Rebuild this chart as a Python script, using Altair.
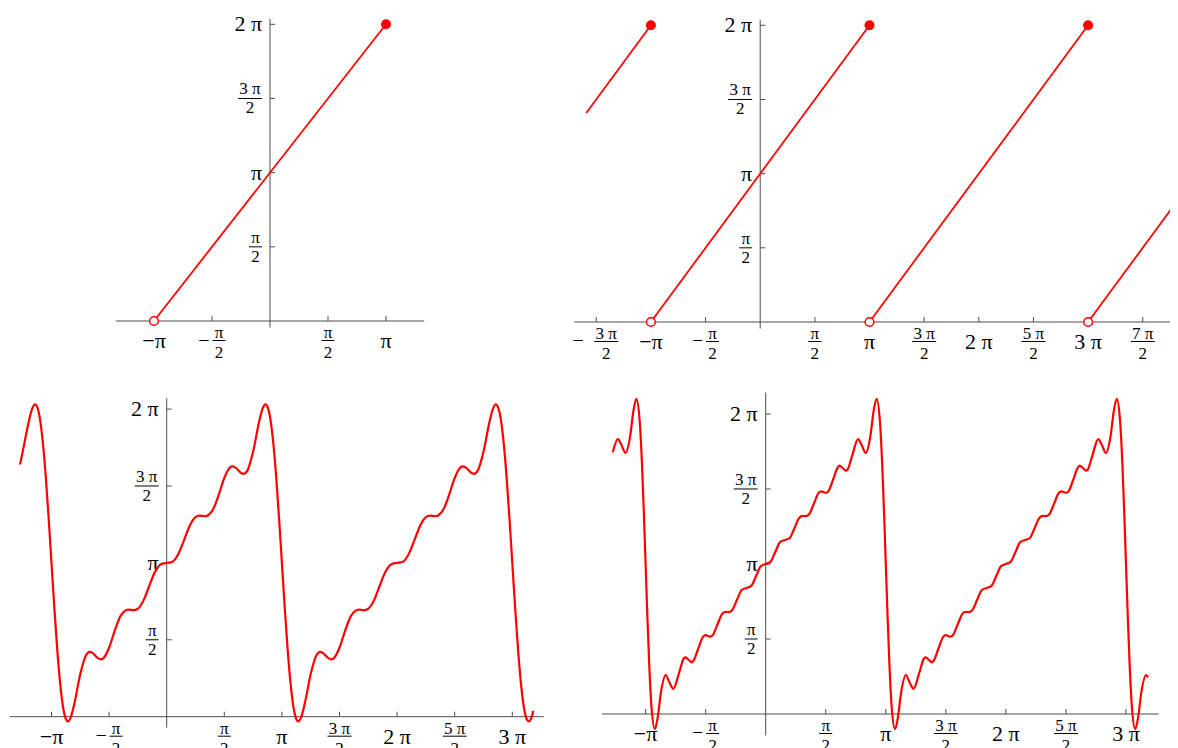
import altair as alt
import pandas as pd

# ---------------- values ----------------
# x values are in units of pi, y values in plain units
TOP_LEFT_X = [-1.0, 1.0]
TOP_LEFT_Y = [0.0, 6.2832]
TOP_LEFT_OPEN_X = [-1.0]
TOP_LEFT_OPEN_Y = [0.0]
TOP_LEFT_FILLED_X = [1.0]
TOP_LEFT_FILLED_Y = [6.2832]

TOP_RIGHT_SEGMENT = [0, 0, 1, 1, 2, 2, 3, 3]
TOP_RIGHT_X = [-1.5915, -1.0, -1.0, 1.0, 1.0, 3.0, 3.0, 3.83]
TOP_RIGHT_Y = [4.4248, 6.2832, 0.0, 6.2832, 0.0, 6.2832, 0.0, 2.6075]
TOP_RIGHT_OPEN_X = [-1.0, 1.0, 3.0]
TOP_RIGHT_OPEN_Y = [0.0, 0.0, 0.0]
TOP_RIGHT_FILLED_X = [-1.0, 1.0, 3.0]
TOP_RIGHT_FILLED_Y = [6.2832, 6.2832, 6.2832]

BOTTOM_LEFT_X = [
    -1.2732, -1.25, -1.2, -1.17, -1.143, -1.125, -1.1, -1.075, -1.05, -1.025, -1.0,
    -0.975, -0.95, -0.925, -0.9, -0.875, -0.857, -0.83, -0.8, -0.75, -0.7, -0.667, -0.65,
    -0.6, -0.571, -0.55, -0.5, -0.45, -0.4, -0.333, -0.286, -0.25, -0.2, -0.15, -0.1, -0.05,
    0.0, 0.05, 0.1, 0.15, 0.2, 0.25, 0.286, 0.333, 0.4, 0.45, 0.5, 0.55, 0.571, 0.6, 0.65,
    0.667, 0.7, 0.75, 0.8, 0.83, 0.857, 0.875, 0.9, 0.925, 0.95, 0.975, 1.0,
    1.025, 1.05, 1.075, 1.1, 1.125, 1.143, 1.17, 1.2, 1.25, 1.3, 1.333, 1.35,
    1.4, 1.429, 1.45, 1.5, 1.55, 1.6, 1.667, 1.714, 1.75, 1.8, 1.85, 1.9, 1.95,
    2.0, 2.05, 2.1, 2.15, 2.2, 2.25, 2.286, 2.333, 2.4, 2.45, 2.5, 2.55, 2.571, 2.6, 2.65,
    2.667, 2.7, 2.75, 2.8, 2.83, 2.857, 2.875, 2.9, 2.925, 2.95, 2.975, 3.0,
    3.025, 3.05, 3.075, 3.1, 3.125, 3.143, 3.17, 3.1831]
BOTTOM_LEFT_Y = [
    5.15, 5.411, 6.000, 6.276, 6.380, 6.330, 6.079, 5.597, 4.912, 4.069, 3.142,
    2.214, 1.371, 0.686, 0.204, -0.047, -0.097, 0.007, 0.283, 0.872, 1.256, 1.323, 1.310,
    1.202, 1.171, 1.192, 1.408, 1.762, 2.060, 2.189, 2.176, 2.205, 2.381, 2.680, 2.964, 3.116,
    3.142, 3.167, 3.319, 3.603, 3.902, 4.078, 4.107, 4.094, 4.223, 4.521, 4.875, 5.091, 5.112, 5.081, 4.973,
    4.960, 5.027, 5.411, 6.000, 6.276, 6.380, 6.330, 6.079, 5.597, 4.912, 4.069, 3.142,
    2.214, 1.371, 0.686, 0.204, -0.047, -0.097, 0.007, 0.283, 0.872, 1.256, 1.323, 1.310,
    1.202, 1.171, 1.192, 1.408, 1.762, 2.060, 2.189, 2.176, 2.205, 2.381, 2.680, 2.964, 3.116,
    3.142, 3.167, 3.319, 3.603, 3.902, 4.078, 4.107, 4.094, 4.223, 4.521, 4.875, 5.091, 5.112, 5.081, 4.973,
    4.960, 5.027, 5.411, 6.000, 6.276, 6.380, 6.330, 6.079, 5.597, 4.912, 4.069, 3.142,
    2.214, 1.371, 0.686, 0.204, -0.047, -0.097, 0.007, 0.12]

BOTTOM_RIGHT_X = [
    -1.2732, -1.231, -1.2, -1.167, -1.13, -1.1, -1.077, -1.05, -1.03, -1.015, -1.0,
    -0.985, -0.97, -0.95, -0.923, -0.9, -0.87, -0.833, -0.8, -0.769, -0.72, -0.68, -0.667,
    -0.64, -0.615, -0.6, -0.56, -0.52, -0.5, -0.462, -0.44, -0.4, -0.36, -0.333, -0.308,
    -0.28, -0.24, -0.2, -0.16, -0.12, -0.08, -0.04,
    0.0, 0.04, 0.08, 0.12, 0.16, 0.2, 0.24, 0.28, 0.308, 0.333, 0.36, 0.4, 0.44, 0.462,
    0.5, 0.52, 0.56, 0.6, 0.615, 0.64, 0.667, 0.68, 0.72, 0.769, 0.8, 0.833, 0.87, 0.9,
    0.923, 0.95, 0.97, 0.985, 1.0,
    1.015, 1.03, 1.05, 1.077, 1.1, 1.13, 1.167, 1.2, 1.231, 1.28, 1.32, 1.333,
    1.36, 1.385, 1.4, 1.44, 1.48, 1.5, 1.538, 1.56, 1.6, 1.64, 1.667, 1.692,
    1.72, 1.76, 1.8, 1.84, 1.88, 1.92, 1.96,
    2.0, 2.04, 2.08, 2.12, 2.16, 2.2, 2.24, 2.28, 2.308, 2.333, 2.36, 2.4, 2.44, 2.462,
    2.5, 2.52, 2.56, 2.6, 2.615, 2.64, 2.667, 2.68, 2.72, 2.769, 2.8, 2.833, 2.87, 2.9,
    2.923, 2.95, 2.97, 2.985, 3.0,
    3.015, 3.03, 3.05, 3.077, 3.1, 3.13, 3.167, 3.1831]
BOTTOM_RIGHT_Y = [
    5.48, 5.755, 5.630, 5.466, 5.794, 6.370, 6.600, 6.162, 5.229, 4.250, 3.142,
    2.033, 1.054, 0.121, -0.317, -0.087, 0.489, 0.817, 0.653, 0.528, 0.873, 1.171, 1.186,
    1.131, 1.083, 1.120, 1.382, 1.625, 1.651, 1.621, 1.655, 1.885, 2.105, 2.140, 2.133,
    2.173, 2.387, 2.597, 2.639, 2.683, 2.890, 3.096,
    3.142, 3.187, 3.393, 3.600, 3.644, 3.686, 3.896, 4.110, 4.150, 4.143, 4.178, 4.398, 4.628, 4.662,
    4.632, 4.658, 4.901, 5.163, 5.200, 5.152, 5.097, 5.112, 5.410, 5.755, 5.630, 5.466, 5.794, 6.370,
    6.600, 6.162, 5.229, 4.250, 3.142,
    2.033, 1.054, 0.121, -0.317, -0.087, 0.489, 0.817, 0.653, 0.528, 0.873, 1.171, 1.186,
    1.131, 1.083, 1.120, 1.382, 1.625, 1.651, 1.621, 1.655, 1.885, 2.105, 2.140, 2.133,
    2.173, 2.387, 2.597, 2.639, 2.683, 2.890, 3.096,
    3.142, 3.187, 3.393, 3.600, 3.644, 3.686, 3.896, 4.110, 4.150, 4.143, 4.178, 4.398, 4.628, 4.662,
    4.632, 4.658, 4.901, 5.163, 5.200, 5.152, 5.097, 5.112, 5.410, 5.755, 5.630, 5.466, 5.794, 6.370,
    6.600, 6.162, 5.229, 4.250, 3.142,
    2.033, 1.054, 0.121, -0.317, -0.087, 0.489, 0.817, 0.767]

# tick positions and labels
Y_TICKS = [1.5708, 3.1416, 4.7124, 6.2832]
Y_BIG_AT = [3.1416, 6.2832]
Y_BIG_TEXT = ["π", "2 π"]
Y_FRAC_AT = [1.5708, 4.7124]
Y_FRAC_NUM = ["π", "3 π"]

TL_X_TICKS = [-1.0, -0.5, 0.5, 1.0]
TL_X_BIG_AT = [-1.0, 1.0]
TL_X_BIG_TEXT = ["−π", "π"]
TL_X_FRAC_AT = [-0.5, 0.5]
TL_X_FRAC_NUM = ["π", "π"]

TR_X_TICKS = [-1.5, -1.0, -0.5, 0.5, 1.0, 1.5, 2.0, 2.5, 3.0, 3.5]
TR_X_BIG_AT = [-1.0, 1.0, 2.0, 3.0]
TR_X_BIG_TEXT = ["−π", "π", "2 π", "3 π"]
TR_X_FRAC_AT = [-1.5, -0.5, 0.5, 1.5, 2.5, 3.5]
TR_X_FRAC_NUM = ["3 π", "π", "π", "3 π", "5 π", "7 π"]

B_X_TICKS = [-1.0, -0.5, 0.5, 1.0, 1.5, 2.0, 2.5, 3.0]
B_X_BIG_AT = [-1.0, 1.0, 2.0, 3.0]
B_X_BIG_TEXT = ["−π", "π", "2 π", "3 π"]
B_X_FRAC_AT = [-0.5, 0.5, 1.5, 2.5]
B_X_FRAC_NUM = ["π", "π", "3 π", "5 π"]

# ---------------- layout / style ----------------
FONT = "Liberation Serif"
BIG = 22
SMALL = 17
AXC = "#4d4d4d"
RED = "#ff0000"
NARROW_BAR = 13
WIDE_BAR = 24

GEOM = {
    "tl": dict(w=552, h=364, xdom=[-2.2586, 2.5], ydom=[-1.0800, 6.6286], xr=[-1.33, 1.33], yr=[-0.14, 6.40]),
    "tr": dict(w=610, h=364, xdom=[-1.8317, 3.7493], ydom=[-1.0589, 6.6497], xr=[-1.701, 3.83], yr=[-0.14, 6.40]),
    "bl": dict(w=567, h=384, xdom=[-1.3776, 3.5443], ydom=[-0.8027, 7.0404], xr=[-1.3624, 3.2723], yr=[-0.224, 6.507]),
    "br": dict(w=595, h=384, xdom=[-1.5878, 3.3664], ydom=[-0.8796, 7.1623], xr=[-1.3624, 3.2723], yr=[-0.449, 6.732]),
}


def panel(g, x_ticks, big_at, big_text, frac_at, frac_num, marks_fn):
    xs = alt.Scale(domain=g["xdom"], nice=False, zero=False)
    ys = alt.Scale(domain=g["ydom"], nice=False, zero=False)

    def X(f):
        return alt.X(f, type="quantitative", scale=xs, axis=None)

    def Y(f):
        return alt.Y(f, type="quantitative", scale=ys, axis=None)

    L = []
    # axis lines
    d = pd.DataFrame({"a": [g["xr"][0]], "b": [g["xr"][1]], "z": [0.0]})
    L.append(alt.Chart(d).mark_rule(color=AXC, strokeWidth=1, clip=True).encode(
        x=X("a"), x2=alt.X2("b"), y=Y("z")))
    d = pd.DataFrame({"a": [g["yr"][0]], "b": [g["yr"][1]], "z": [0.0]})
    L.append(alt.Chart(d).mark_rule(color=AXC, strokeWidth=1, clip=True).encode(
        x=X("z"), y=Y("a"), y2=alt.Y2("b")))
    # x ticks (pointing up)
    d = pd.DataFrame({"t": x_ticks, "z": [0.0] * len(x_ticks), "z2": [0.0] * len(x_ticks)})
    L.append(alt.Chart(d).mark_rule(color=AXC, strokeWidth=1, y2Offset=-5, clip=True).encode(
        x=X("t"), y=Y("z"), y2=alt.Y2("z2")))
    # y ticks (pointing right)
    d = pd.DataFrame({"t": Y_TICKS, "z": [0.0] * len(Y_TICKS), "z2": [0.0] * len(Y_TICKS)})
    L.append(alt.Chart(d).mark_rule(color=AXC, strokeWidth=1, x2Offset=5, clip=True).encode(
        x=X("z"), x2=alt.X2("z2"), y=Y("t")))

    # big x labels
    d = pd.DataFrame({"t": big_at, "lab": big_text, "z": [0.0] * len(big_at)})
    L.append(alt.Chart(d).mark_text(font=FONT, fontSize=BIG, align="center", baseline="alphabetic",
                                    dy=27, color="black", clip=True).encode(
        x=X("t"), y=Y("z"), text=alt.Text("lab:N")))

    # fraction x labels
    fx = pd.DataFrame({"t": frac_at, "num": frac_num})
    fx["z"] = 0.0
    fx["t2"] = fx["t"]
    fx["den"] = "2"
    for wide in (False, True):
        for neg in (False, True):
            sub = fx[((fx["num"] != "π") == wide) & ((fx["t"] < 0) == neg)]
            if len(sub) == 0:
                continue
            bw = WIDE_BAR if wide else NARROW_BAR
            sh = (10 if wide else 7) if neg else 0
            L.append(alt.Chart(sub).mark_text(font=FONT, fontSize=SMALL, align="center", baseline="alphabetic",
                                              dx=sh, dy=17, color="black", clip=True).encode(
                x=X("t"), y=Y("z"), text=alt.Text("num:N")))
            L.append(alt.Chart(sub).mark_rule(color="black", strokeWidth=1, xOffset=sh - bw / 2,
                                              x2Offset=sh + bw / 2, yOffset=19.5, clip=True).encode(
                x=X("t"), x2=alt.X2("t2"), y=Y("z")))
            L.append(alt.Chart(sub).mark_text(font=FONT, fontSize=SMALL, align="center", baseline="alphabetic",
                                              dx=sh, dy=37, color="black", clip=True).encode(
                x=X("t"), y=Y("z"), text=alt.Text("den:N")))
            if neg:
                L.append(alt.Chart(sub).mark_text(font=FONT, fontSize=20, align="center", baseline="middle",
                                                  dx=-18 if wide else -8, dy=19.5, color="black", clip=True).encode(
                    x=X("t"), y=Y("z"), text=alt.value("−")))

    # big y labels
    d = pd.DataFrame({"t": Y_BIG_AT, "lab": Y_BIG_TEXT, "z": [0.0] * len(Y_BIG_AT)})
    L.append(alt.Chart(d).mark_text(font=FONT, fontSize=BIG, align="right", baseline="middle",
                                    dx=-8, color="black", clip=True).encode(
        x=X("z"), y=Y("t"), text=alt.Text("lab:N")))
    # fraction y labels
    fy = pd.DataFrame({"t": Y_FRAC_AT, "num": Y_FRAC_NUM})
    fy["z"] = 0.0
    fy["z2"] = 0.0
    fy["den"] = "2"
    for wide in (False, True):
        sub = fy[(fy["num"] != "π") == wide]
        if len(sub) == 0:
            continue
        bw = WIDE_BAR if wide else NARROW_BAR
        cx = -(8 + bw / 2)
        L.append(alt.Chart(sub).mark_text(font=FONT, fontSize=SMALL, align="center", baseline="alphabetic",
                                          dx=cx, dy=-4, color="black", clip=True).encode(
            x=X("z"), y=Y("t"), text=alt.Text("num:N")))
        L.append(alt.Chart(sub).mark_rule(color="black", strokeWidth=1, xOffset=cx - bw / 2,
                                          x2Offset=cx + bw / 2, clip=True).encode(
            x=X("z"), x2=alt.X2("z2"), y=Y("t")))
        L.append(alt.Chart(sub).mark_text(font=FONT, fontSize=SMALL, align="center", baseline="alphabetic",
                                          dx=cx, dy=15, color="black", clip=True).encode(
            x=X("z"), y=Y("t"), text=alt.Text("den:N")))

    L += marks_fn(X, Y)
    return alt.layer(*L).properties(width=g["w"], height=g["h"])


def open_pts(X, Y, xs, ys):
    d = pd.DataFrame({"x": xs, "y": ys})
    return alt.Chart(d).mark_point(shape="circle", filled=True, fill="white", stroke=RED, strokeWidth=1.5,
                                   size=75, opacity=1, fillOpacity=1, clip=True).encode(x=X("x"), y=Y("y"))


def filled_pts(X, Y, xs, ys):
    d = pd.DataFrame({"x": xs, "y": ys})
    return alt.Chart(d).mark_circle(color=RED, size=100, opacity=1, clip=True).encode(x=X("x"), y=Y("y"))


def tl_marks(X, Y):
    d = pd.DataFrame({"x": TOP_LEFT_X, "y": TOP_LEFT_Y})
    line = alt.Chart(d).mark_line(color=RED, strokeWidth=1.8, clip=True).encode(x=X("x"), y=Y("y"))
    return [line, open_pts(X, Y, TOP_LEFT_OPEN_X, TOP_LEFT_OPEN_Y),
            filled_pts(X, Y, TOP_LEFT_FILLED_X, TOP_LEFT_FILLED_Y)]


def tr_marks(X, Y):
    d = pd.DataFrame({"s": TOP_RIGHT_SEGMENT, "x": TOP_RIGHT_X, "y": TOP_RIGHT_Y})
    line = alt.Chart(d).mark_line(color=RED, strokeWidth=1.8, clip=True).encode(
        x=X("x"), y=Y("y"), detail="s:N")
    return [line, open_pts(X, Y, TOP_RIGHT_OPEN_X, TOP_RIGHT_OPEN_Y),
            filled_pts(X, Y, TOP_RIGHT_FILLED_X, TOP_RIGHT_FILLED_Y)]


def curve_marks(xs, ys):
    def fn(X, Y):
        d = pd.DataFrame({"x": xs, "y": ys})
        return [alt.Chart(d).mark_line(color=RED, strokeWidth=2.2, interpolate="monotone", clip=True).encode(
            x=X("x"), y=Y("y"))]
    return fn


tl = panel(GEOM["tl"], TL_X_TICKS, TL_X_BIG_AT, TL_X_BIG_TEXT, TL_X_FRAC_AT, TL_X_FRAC_NUM, tl_marks)
tr = panel(GEOM["tr"], TR_X_TICKS, TR_X_BIG_AT, TR_X_BIG_TEXT, TR_X_FRAC_AT, TR_X_FRAC_NUM, tr_marks)
bl = panel(GEOM["bl"], B_X_TICKS, B_X_BIG_AT, B_X_BIG_TEXT, B_X_FRAC_AT, B_X_FRAC_NUM,
           curve_marks(BOTTOM_LEFT_X, BOTTOM_LEFT_Y))
br = panel(GEOM["br"], B_X_TICKS, B_X_BIG_AT, B_X_BIG_TEXT, B_X_FRAC_AT, B_X_FRAC_NUM,
           curve_marks(BOTTOM_RIGHT_X, BOTTOM_RIGHT_Y))

chart = alt.vconcat(
    alt.hconcat(tl, tr, spacing=0),
    alt.hconcat(bl, br, spacing=0),
    spacing=0,
).properties(padding=0, background="white").configure_view(stroke=None)

chart.save("out.html", embed_options={"renderer": "svg", "actions": False})
